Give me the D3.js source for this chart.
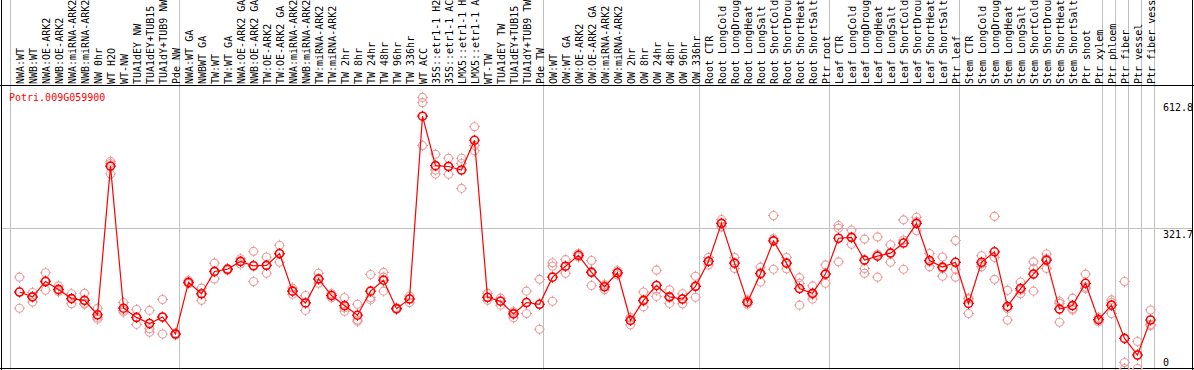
<!DOCTYPE html>
<html>
<head>
<meta charset="utf-8">
<script src="https://cdn.jsdelivr.net/npm/d3@7"></script>
<style>
  html, body { margin: 0; padding: 0; background: #fff; }
  svg { display: block; }
  text { font-family: "DejaVu Sans Mono", "Liberation Mono", monospace; font-size: 10px; }
</style>
</head>
<body>
<svg id="chart" width="1194" height="370"></svg>
<script>
const categories = [
  "NWA:WT","NWB:WT","NWA:OE-ARK2","NWB:OE-ARK2","NWA:miRNA-ARK2","NWB:miRNA-ARK2","NW 0hr","WT H2O","WT-NW",
  "TUA1dEY NW","TUA1dEY+TUB15","TUA1dY+TUB9 NW","Pde NW",
  "NWA:WT GA","NWBWT GA","TW:WT","TW:WT GA","NWA:OE-ARK2 GA","NWB:OE-ARK2 GA","TW:OE-ARK2","TW:OE-ARK2 GA",
  "NWA:miRNA-ARK2","NWB:miRNA-ARK2","TW:miRNA-ARK2","TW:miRNA-ARK2","TW 2hr","TW 8hr","TW 24hr","TW 48hr","TW 96hr","TW 336hr",
  "WT ACC","35S::etr1-1 H2O","35S::etr1-1 ACC","LMX5::etr1-1 H2O","LMX5::etr1-1 ACC","WT-TW","TUA1dEY TW","TUA1dEY+TUB15","TUA1dY+TUB9 TW","Pde TW",
  "OW:WT","OW:WT GA","OW:OE-ARK2","OW:OE-ARK2 GA","OW:miRNA-ARK2","OW:miRNA-ARK2","OW 2hr","OW 8hr","OW 24hr","OW 48hr","OW 96hr","OW 336hr",
  "Root CTR","Root LongCold","Root LongDrought","Root LongHeat","Root LongSalt","Root ShortCold","Root ShortDrought","Root ShortHeat","Root ShortSalt","Ptr root",
  "Leaf CTR","Leaf LongCold","Leaf LongDrought","Leaf LongHeat","Leaf LongSalt","Leaf ShortCold","Leaf ShortDrought","Leaf ShortHeat","Leaf ShortSalt","Ptr leaf",
  "Stem CTR","Stem LongCold","Stem LongDrought","Stem LongHeat","Stem LongSalt","Stem ShortCold","Stem ShortDrought","Stem ShortHeat","Stem ShortSalt","Ptr shoot","Ptr xylem",
  "Ptr phloem","Ptr fiber","Ptr vessel","Ptr fiber vessel"
];

const meanValues = [
  176,165,200,182,161,157,124,464,139,118,104,119,80,
  198,172,223,228,246,236,237,264,178,151,206,168,145,123,178,203,138,160,
  578,465,463,455,523,164,155,126,152,148,
  210,235,260,221,188,220,111,157,191,165,160,189,
  246,333,242,153,218,293,242,184,173,217,
  299,301,249,258,265,288,333,248,233,244,
  150,244,268,143,184,217,249,137,145,196,113,
  146,70,32,112
];

const replicates = [
  [210,176,139],[175,165,153],[220,202,180],[190,180,177],[172,161,149],[173,150,148],[139,118,114],[475,470,446],[152,134,130],
  [136,117,102],[134,92,84],[159,118,80],[82,80,78],
  [202,198,195],[185,172,157],[242,222,206],[230,228,226],[252,246,240],[269,237,200],[256,237,219],[283,264,244],
  [185,178,171],[168,151,134],[219,205,196],[172,168,163],[163,140,132],[148,112,109],[216,163,158],[221,210,178],[140,138,136],[167,161,152],
  [621,609,511],[491,455,446],[482,463,445],[482,470,413],[554,511,499],[173,163,157],[162,156,146],[131,128,117],[178,152,127],[205,148,91],
  [243,235,155],[250,235,219],[264,260,256],[248,223,191],[193,189,181],[225,220,215],[118,113,101],[176,155,142],[226,180,166],[181,163,150],[172,160,149],[212,190,164],
  [255,246,238],[342,333,325],[255,242,230],[158,152,148],[233,220,199],[351,298,228],[255,242,229],[209,196,146],[190,170,160],[238,217,196],
  [328,322,245],[318,300,285],[297,230,219],[302,262,210],[284,266,244],[341,295,228],[347,337,316],[264,245,234],[256,230,212],[294,228,210],
  [162,160,127],[259,240,234],[349,255,205],[180,138,112],[199,180,172],[245,230,178],[263,252,230],[155,150,107],[162,138,135],[217,187,184],[118,112,108],
  [158,152,127],[200,15,1],[63,32,1],[135,102,99]
];

const groupStarts = [0, 13, 41, 53, 63, 73, 84, 85, 86, 87, 88];
const yTickValues = [612.8, 321.7, 0];
const title = "Potri.009G059900";

const W = 1194, H = 370;
const svg = d3.select("#chart");

const x = d3.scaleBand().domain(d3.range(categories.length)).range([10.5, 1154.5]).paddingInner(0).paddingOuter(0);
const cx = i => x(i) + 9;
const y = d3.scaleLinear().domain([0, 612.8]).range([369, 101]);

const grey = "#c0c0c0";

// horizontal gridline at middle tick
svg.append("line")
  .attr("x1", 1).attr("x2", W - 1)
  .attr("y1", Math.round(y(321.7)) + 0.5).attr("y2", Math.round(y(321.7)) + 0.5)
  .attr("stroke", grey).attr("stroke-width", 1);

// vertical group separators
svg.selectAll("line.vgrid").data(groupStarts).join("line")
  .attr("class", "vgrid")
  .attr("x1", d => (d < categories.length ? x(d) : x.range()[1]))
  .attr("x2", d => (d < categories.length ? x(d) : x.range()[1]))
  .attr("y1", 0).attr("y2", H)
  .attr("stroke", grey).attr("stroke-width", 1);

// header labels (rotated)
svg.append("g").selectAll("text").data(categories).join("text")
  .attr("transform", (d, i) => `translate(${cx(i) + 4},84) rotate(-90)`)
  .attr("text-anchor", "start")
  .attr("fill", "#000")
  .text(d => d);

// borders
svg.append("line").attr("x1", 0).attr("x2", W).attr("y1", 85.5).attr("y2", 85.5).attr("stroke", "#000");
svg.append("line").attr("x1", 0).attr("x2", W).attr("y1", 368.5).attr("y2", 368.5).attr("stroke", "#000");
svg.append("line").attr("x1", 1.5).attr("x2", 1.5).attr("y1", 0).attr("y2", H).attr("stroke", "#000");
svg.append("line").attr("x1", 1192.5).attr("x2", 1192.5).attr("y1", 0).attr("y2", H).attr("stroke", "#000");

// y tick labels
svg.append("g").selectAll("text").data(yTickValues).join("text")
  .attr("x", 1163)
  .attr("y", d => Math.min(y(d) + 10, 366))
  .attr("fill", "#000")
  .text(d => d === 0 ? "0" : d3.format(".1f")(d));

// title
svg.append("text").attr("x", 9).attr("y", 101).attr("fill", "#ff0000").text(title);

function ringPath(px, py, r) {
  const t = 1.5;
  return `M${px - r - t},${py}h${t}M${px + r},${py}h${t}M${px},${py - r - t}v${t}M${px},${py + r}v${t}`;
}

// replicates
const repPts = [];
replicates.forEach((arr, i) => arr.forEach(v => repPts.push({ i, v })));
const repG = svg.append("g");
repG.selectAll("circle").data(repPts).join("circle")
  .attr("cx", d => cx(d.i)).attr("cy", d => y(d.v)).attr("r", 4)
  .attr("fill", "none").attr("stroke", "#ee9a9a").attr("stroke-width", 1.1);
repG.selectAll("path").data(repPts).join("path")
  .attr("d", d => ringPath(cx(d.i), y(d.v), 4))
  .attr("stroke", "#ee9a9a").attr("stroke-width", 1).attr("fill", "none");

// mean line
const line = d3.line().x((d, i) => cx(i)).y(d => y(d));
svg.append("path").datum(meanValues)
  .attr("d", line).attr("fill", "none").attr("stroke", "#ff0000").attr("stroke-width", 1.2);

// mean circles
const meanG = svg.append("g");
meanG.selectAll("circle").data(meanValues).join("circle")
  .attr("cx", (d, i) => cx(i)).attr("cy", d => y(d)).attr("r", 4)
  .attr("fill", "none").attr("stroke", "#ff0000").attr("stroke-width", 1.6);
meanG.selectAll("path").data(meanValues).join("path")
  .attr("d", (d, i) => ringPath(cx(i), y(d), 4))
  .attr("stroke", "#ff0000").attr("stroke-width", 1.2).attr("fill", "none");
</script>
</body>
</html>
